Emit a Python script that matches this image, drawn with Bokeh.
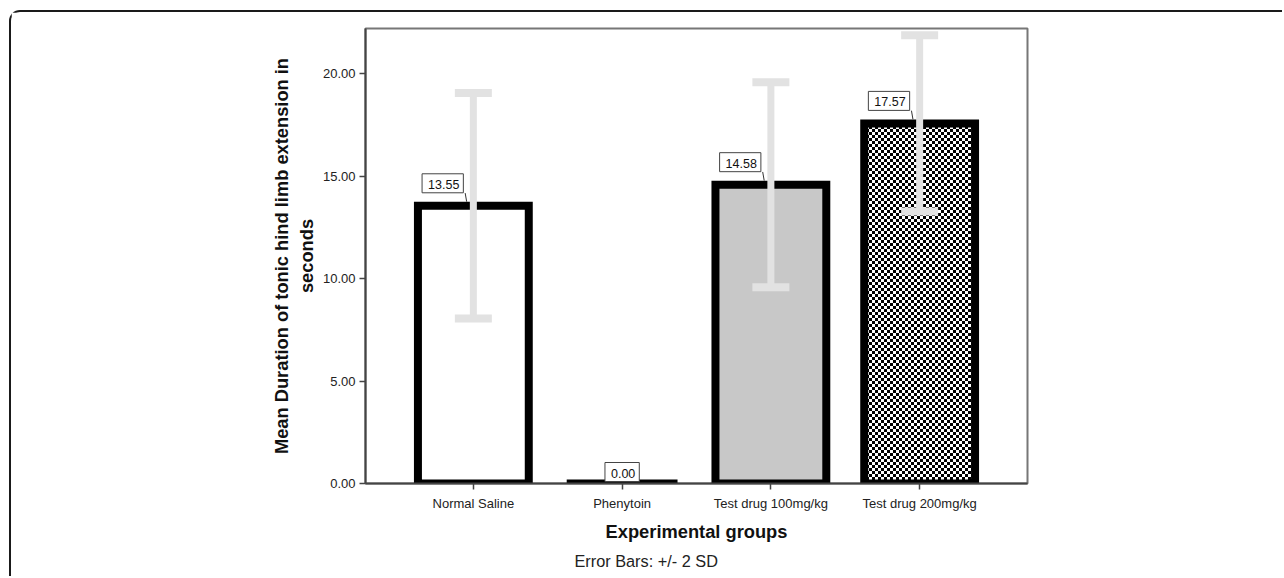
import base64
from bokeh.plotting import figure
from bokeh.models import (ColumnDataSource, FactorRange, Range1d, FixedTicker,
                          NumeralTickFormatter, Whisker, TeeHead, Title,
                          ImageURLTexture)
from bokeh.transform import dodge
from bokeh.core.properties import value
from bokeh.embed import file_html
from bokeh.resources import INLINE

# ---- data ----
groups = ["Normal Saline", "Phenytoin", "Test drug 100mg/kg", "Test drug 200mg/kg"]
means = [13.55, 0.00, 14.58, 17.57]
sds = [2.75, 0.00, 2.50, 2.15]
fills = ["white", "white", "#c8c8c8", "white"]
patterns = [" ", " ", " ", "checker"]
y_ticks = [0, 5, 10, 15, 20]

FONT = "Liberation Sans"

# derived sources
bars = ColumnDataSource(dict(x=groups, top=means, fill=fills, pat=patterns))
nz = [i for i, s in enumerate(sds) if s > 0]
err = ColumnDataSource(dict(x=[groups[i] for i in nz],
                            lower=[means[i] - 2 * sds[i] for i in nz],
                            upper=[means[i] + 2 * sds[i] for i in nz]))
pos = [i for i, m in enumerate(means) if m > 0]
zer = [i for i, m in enumerate(means) if m <= 0]
lab_pos = ColumnDataSource(dict(x=[groups[i] for i in pos], y=[means[i] for i in pos],
                                txt=[f"{means[i]:.2f}" for i in pos],
                                y0=[means[i] + 0.62 for i in pos],
                                y1=[means[i] + 0.2 for i in pos]))
lab_zer = ColumnDataSource(dict(x=[groups[i] for i in zer], y=[means[i] for i in zer],
                                txt=[f"{means[i]:.2f}" for i in zer]))

W, H = 1273, 566
OX, OY = 11, 12  # page offset of the canvas (margin + border)
FL, FR, FT, FB = 365, 1027, 28, 483  # target frame edges on page

p = figure(width=W, height=H,
           x_range=FactorRange(factors=groups, range_padding=0.225,
                               range_padding_units="absolute"),
           y_range=Range1d(0, 22.2),
           output_backend="svg", toolbar_location=None,
           min_border_left=FL - OX, min_border_right=W - (FR - OX),
           min_border_top=FT - OY, min_border_bottom=H - (FB - OY))
p.margin = (10, 0, 0, 9)
p.styles = {"border-top": "2px solid #1a1a1a", "border-left": "2px solid #1a1a1a",
            "border-top-left-radius": "11px"}

p.background_fill_color = "white"
p.border_fill_color = "white"
p.outline_line_color = "#777777"
p.outline_line_width = 2
p.xgrid.visible = False
p.ygrid.visible = False

svg_tile = ("<svg xmlns='http://www.w3.org/2000/svg' width='6' height='6'>"
            "<rect width='6' height='6' fill='white'/>"
            "<rect width='3' height='3' fill='black'/>"
            "<rect x='3' y='3' width='3' height='3' fill='black'/></svg>")
tile_url = "data:image/svg+xml;base64," + base64.b64encode(svg_tile.encode()).decode()
checker = ImageURLTexture(url=tile_url)

p.vbar(x="x", top="top", bottom=0, width=0.745, source=bars,
       fill_color="fill", line_color="black", line_width=8, line_join="miter",
       hatch_pattern="pat", hatch_color="black", hatch_scale=6,
       hatch_weight=1, hatch_extra={"checker": checker})

# leader lines
p.segment(x0=dodge("x", -0.055, range=p.x_range), y0="y0",
          x1=dodge("x", -0.045, range=p.x_range), y1="y1",
          source=lab_pos, line_color="#333333", line_width=1)

# error bars
p.add_layout(Whisker(base="x", lower="lower", upper="upper", source=err,
                     level="overlay",
                     line_color="#e2e2e2", line_width=7,
                     upper_head=TeeHead(size=37, line_color="#e2e2e2", line_width=8),
                     lower_head=TeeHead(size=37, line_color="#e2e2e2", line_width=8)))

common = dict(text="txt", text_font=value(FONT), text_font_size="12.5px",
              text_color="#111111", background_fill_color="white",
              border_line_color="#444444", border_line_width=1, padding=(6, 4, 6, 4))
p.text(x="x", y="y", source=lab_pos, text_align="right", text_baseline="bottom",
       x_offset=-10, y_offset=-13, **common)
p.text(x="x", y="y", source=lab_zer, text_align="center", text_baseline="bottom",
       x_offset=0, y_offset=-2, **common)

# axes
p.yaxis.ticker = FixedTicker(ticks=y_ticks)
p.yaxis.formatter = NumeralTickFormatter(format="0.00")
p.yaxis.minor_tick_line_color = None
for ax in (p.xaxis[0], p.yaxis[0]):
    ax.axis_line_color = "#444444"
    ax.axis_line_width = 2
    ax.major_tick_line_color = "#444444"
    ax.major_tick_line_width = 1.5
    ax.major_tick_in = 0
    ax.major_tick_out = 6
    ax.major_label_text_font = FONT
    ax.major_label_text_font_size = "13px"
    ax.major_label_text_color = "#222222"
    ax.axis_label_text_font = FONT
    ax.axis_label_text_font_style = "bold"
    ax.axis_label_text_font_size = "18.3px"
    ax.axis_label_text_color = "#111111"

p.xaxis.axis_label = "Experimental groups"
p.xaxis.major_label_standoff = 6
p.xaxis.axis_label_standoff = 7
p.yaxis.axis_label = "Mean Duration of tonic hind limb extension in\nseconds"
p.yaxis.major_label_standoff = 4
p.yaxis.axis_label_standoff = 3

p.add_layout(Title(text="Error Bars: +/- 2 SD", align="left", offset=574 - FL,
                   text_font=FONT, text_font_size="16.3px", text_font_style="normal",
                   text_color="#222222", text_line_height=1.0, standoff=14,
                   vertical_align="top"), "below")

open("out.html", "w").write(file_html(p, INLINE))
